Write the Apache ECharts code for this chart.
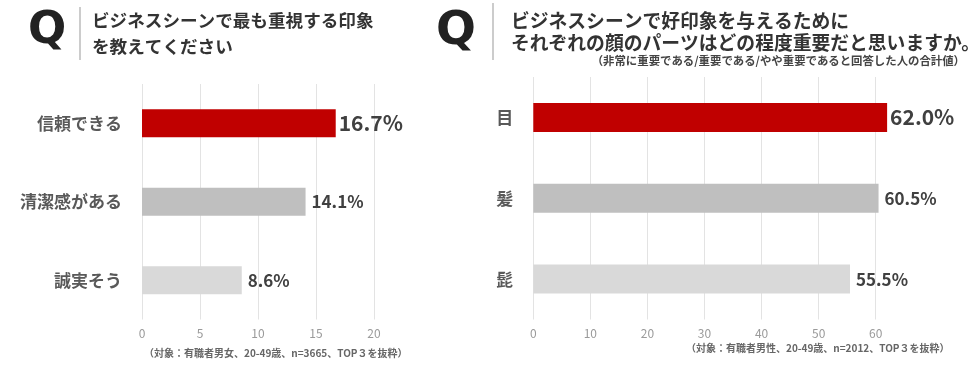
<!DOCTYPE html>
<html><head><meta charset="utf-8">
<script src="https://cdn.jsdelivr.net/npm/echarts@6/dist/echarts.min.js"></script>
<style>html,body{margin:0;padding:0;background:#fff}#c{width:977px;height:372px}</style>
</head><body><div id="c"></div>
<script>
// Left chart data
const leftCategories = ['信頼できる', '清潔感がある', '誠実そう'];
const leftValues = [16.7, 14.1, 8.6];
const leftTicks = [0, 5, 10, 15, 20];
// Right chart data
const rightCategories = ['目', '髪', '髭'];
const rightValues = [62.0, 60.5, 55.5];
const rightTicks = [0, 10, 20, 30, 40, 50, 60];

const FONT = '"Noto Sans CJK JP", "Noto Sans", sans-serif';
const barColors = ['#C00000', '#BFBFBF', '#D9D9D9'];
const labelSizes = [21, 17, 17];

function mkData(vals) {
  return vals.map((v, i) => ({
    value: v,
    itemStyle: { color: barColors[i] },
    label: { fontSize: labelSizes[i], distance: i === 0 ? 3 : 6 }
  }));
}

const chart = echarts.init(document.getElementById('c'), null, { renderer: 'canvas' });

const catAxis = (gi, cats) => ({
  type: 'category', gridIndex: gi, data: cats, inverse: true,
  axisLine: { show: false }, axisTick: { show: false },
  axisLabel: { fontFamily: FONT, fontSize: 17, fontWeight: 'bold', color: '#595959', margin: 20 }
});
const valAxis = (gi, ticks) => ({
  type: 'value', gridIndex: gi, min: ticks[0], max: ticks[ticks.length - 1],
  interval: ticks[1] - ticks[0],
  axisLine: { show: false }, axisTick: { show: false },
  splitLine: { show: true, lineStyle: { color: '#E3E3E3', width: 1 } },
  axisLabel: { fontFamily: FONT, fontSize: 12, color: '#9a9a9a', margin: 8 }
});

const option = {
  animation: false,
  backgroundColor: '#fff',
  grid: [
    { left: 142, top: 84, width: 232, height: 235.5 },
    { left: 533.3, top: 77, width: 342.4, height: 242.5 }
  ],
  xAxis: [valAxis(0, leftTicks), valAxis(1, rightTicks)],
  yAxis: [catAxis(0, leftCategories), catAxis(1, rightCategories)],
  series: [
    {
      type: 'bar', xAxisIndex: 0, yAxisIndex: 0, barWidth: 28, clip: false,
      data: mkData(leftValues),
      label: { show: true, position: 'right', fontFamily: FONT, fontWeight: 'bold', color: '#404040',
        formatter: p => p.value.toFixed(1) + '%' }
    },
    {
      type: 'bar', xAxisIndex: 1, yAxisIndex: 1, barWidth: 29, clip: false,
      data: mkData(rightValues),
      label: { show: true, position: 'right', fontFamily: FONT, fontWeight: 'bold', color: '#404040',
        formatter: p => p.value.toFixed(1) + '%' }
    }
  ],
  graphic: [
    // Left header
    { type: 'text', left: 28, top: 9, style: { text: 'Q', font: 'bold 45px "DejaVu Sans", sans-serif', fill: '#222' } },
    { type: 'line', shape: { x1: 80, y1: 7, x2: 80, y2: 60 }, style: { stroke: '#999', lineWidth: 1 } },
    { type: 'text', left: 92, top: 12, style: { text: 'ビジネスシーンで最も重視する印象', font: 'bold 17.6px ' + FONT, fill: '#333' } },
    { type: 'text', left: 92, top: 38, style: { text: 'を教えてください', font: 'bold 17.6px ' + FONT, fill: '#333' } },
    // Right header
    { type: 'text', left: 436, top: 8, style: { text: 'Q', font: 'bold 47px "DejaVu Sans", sans-serif', fill: '#222' } },
    { type: 'line', shape: { x1: 493, y1: 3, x2: 493, y2: 60 }, style: { stroke: '#999', lineWidth: 1 } },
    { type: 'text', left: 511, top: 11, style: { text: 'ビジネスシーンで好印象を与えるために', font: 'bold 18.8px ' + FONT, fill: '#333' } },
    { type: 'text', left: 511, top: 33, style: { text: 'それぞれの顔のパーツはどの程度重要だと思いますか。', font: 'bold 18.8px ' + FONT, fill: '#333' } },
    { type: 'text', right: 12, top: 55, style: { text: '（非常に重要である/重要である/やや重要であると回答した人の合計値）', font: 'bold 11.4px ' + FONT, fill: '#444' } },
    // Footnotes
    { type: 'text', left: 144, top: 348, style: { text: '（対象：有職者男女、20-49歳、n=3665、TOP３を抜粋）', font: 'bold 10px ' + FONT, fill: '#666' } },
    { type: 'text', left: 686, top: 343, style: { text: '（対象：有職者男性、20-49歳、n=2012、TOP３を抜粋）', font: 'bold 10px ' + FONT, fill: '#666' } }
  ]
};
chart.setOption(option);
</script>
</body></html>
